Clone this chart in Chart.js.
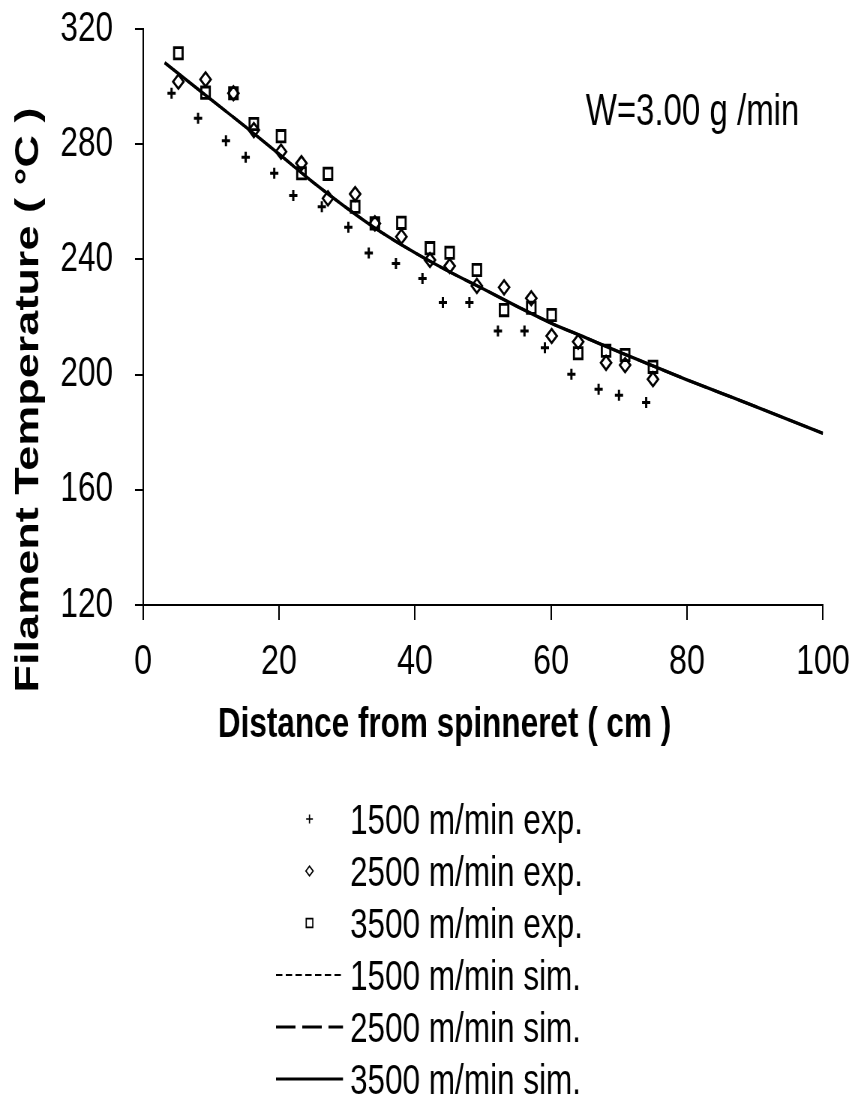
<!DOCTYPE html>
<html>
<head>
<meta charset="utf-8">
<script src="https://cdn.jsdelivr.net/npm/chart.js@4.4.1/dist/chart.umd.min.js"></script>
<style>
html,body{margin:0;padding:0;background:#fff;overflow:hidden;}
canvas{display:block;}
</style>
</head>
<body>
<canvas id="c" width="1136" height="1095" style="width:852px;height:1095px"></canvas>
<script>
// ---------- data ----------
const xTickValues = [0, 20, 40, 60, 80, 100];
const yTickValues = [120, 160, 200, 240, 280, 320];

const exp1500Dist = [4.2, 8.1, 12.2, 15.1, 19.3, 22.1, 26.3, 30.2, 33.2, 37.2, 41.1, 44.1, 48.0, 52.2, 56.1, 59.1, 63.0, 67.0, 70.0, 74.0];
const exp1500Temp = [297.7, 289.0, 281.2, 275.5, 269.9, 262.2, 258.3, 251.2, 242.2, 238.6, 233.4, 225.0, 225.0, 215.1, 215.1, 209.3, 200.1, 194.9, 192.8, 190.3];

const exp2500Dist = [5.2, 9.2, 13.3, 16.3, 20.3, 23.3, 27.2, 31.2, 34.1, 38.0, 42.2, 45.1, 49.1, 53.1, 57.1, 60.1, 64.0, 68.1, 70.9, 75.0];
const exp2500Temp = [301.7, 302.5, 297.7, 284.9, 277.4, 273.4, 261.2, 262.7, 252.5, 247.9, 239.8, 237.7, 230.8, 230.3, 226.5, 213.4, 211.4, 204.1, 203.3, 198.4];

const exp3500Dist = [5.2, 9.2, 13.3, 16.3, 20.3, 23.3, 27.2, 31.2, 34.1, 38.0, 42.2, 45.1, 49.1, 53.1, 57.1, 60.1, 64.0, 68.1, 70.9, 75.0];
const exp3500Temp = [311.6, 297.9, 297.7, 287.0, 282.8, 269.9, 269.7, 258.3, 252.5, 252.7, 243.9, 242.3, 236.3, 222.4, 223.2, 220.7, 207.4, 208.3, 206.8, 202.7];

const simDist = [3.2, 10, 15, 20, 25, 30, 35, 40, 45, 50, 55, 60, 65, 70, 75, 80, 85, 90, 95, 100];
const sim1500Temp = [308.3, 295.5, 286.2, 276.6, 266.8, 257.8, 249.5, 242.3, 235.8, 229.8, 223.7, 217.9, 212.9, 207.9, 203.0, 198.2, 193.6, 189.0, 184.3, 179.6];
const sim2500Temp = [308.3, 295.5, 286.2, 276.6, 266.8, 257.8, 249.5, 242.3, 235.8, 229.8, 223.7, 217.9, 212.9, 207.9, 203.0, 198.2, 193.6, 189.0, 184.3, 179.6];
const sim3500Temp = [308.3, 295.5, 286.2, 276.6, 266.8, 257.8, 249.5, 242.3, 235.8, 229.8, 223.7, 217.9, 212.9, 207.9, 203.0, 198.2, 193.6, 189.0, 184.3, 179.6];

const seriesLabels = ['1500 m/min exp.', '2500 m/min exp.', '3500 m/min exp.', '1500 m/min sim.', '2500 m/min sim.', '3500 m/min sim.'];
const xAxisTitle = 'Distance from spinneret ( cm )';
const yAxisTitle = 'Filament Temperature ( \u00B0C )';
const noteText = 'W=3.00 g /min';

// ---------- helpers ----------
const SX = 852 / 1136;           // horizontal squeeze of the picture
const FONT = "'Liberation Sans', Arial, Helvetica, sans-serif";
const pts = (xs, ys) => xs.map((x, i) => ({x: x, y: ys[i]}));

function drawMarker(ctx, style, x, y, r, lw) {
  ctx.save();
  ctx.strokeStyle = '#000';
  ctx.lineWidth = lw;
  ctx.beginPath();
  if (style === 'cross') {
    ctx.moveTo(x - r, y); ctx.lineTo(x + r, y);
    ctx.moveTo(x, y - r); ctx.lineTo(x, y + r);
  } else if (style === 'rectRot') {
    ctx.moveTo(x - r, y); ctx.lineTo(x, y - r); ctx.lineTo(x + r, y); ctx.lineTo(x, y + r); ctx.closePath();
  } else {
    const s = r * Math.SQRT1_2;
    ctx.rect(x - s, y - s, 2 * s, 2 * s);
  }
  ctx.stroke();
  ctx.restore();
}

const textPlugin = {
  id: 'texts',
  afterDraw(chart) {
    const ctx = chart.ctx;
    ctx.save();
    ctx.fillStyle = '#000';
    // note
    ctx.font = '44px ' + FONT;
    ctx.textAlign = 'center';
    ctx.textBaseline = 'alphabetic';
    ctx.fillText(noteText, 692.5 / SX, 125);
    // x title
    ctx.font = 'bold 42px ' + FONT;
    ctx.textAlign = 'center';
    ctx.fillText(xAxisTitle, 444.5 / SX, 737);
    // y title
    ctx.save();
    ctx.translate(38 / SX, 400);
    ctx.rotate(-Math.PI / 2);
    ctx.font = 'bold 45px ' + FONT;
    ctx.textAlign = 'center';
    ctx.fillText(yAxisTitle, 0, 0);
    ctx.restore();
    // legend
    const baselines = [834, 886, 938, 990, 1042, 1094];
    chart.data.datasets.forEach((ds, i) => {
      const by = baselines[i];
      const cy = by - 15;
      if (ds.showLine) {
        ctx.save();
        ctx.strokeStyle = '#000';
        ctx.lineWidth = ds.legendWidth;
        ctx.setLineDash(ds.legendDash);
        ctx.beginPath();
        ctx.moveTo(276 / SX, cy);
        ctx.lineTo(343 / SX, cy);
        ctx.stroke();
        ctx.restore();
      } else {
        drawMarker(ctx, ds.pointStyle, 309.5 / SX, cy, ds.legendRadius, 1.7);
      }
      ctx.font = '42px ' + FONT;
      ctx.textAlign = 'left';
      ctx.textBaseline = 'alphabetic';
      ctx.fillText(ds.label, 350 / SX, by);
    });
    ctx.restore();
  }
};

const common = {borderColor: '#000', backgroundColor: 'rgba(0,0,0,0)', showLine: false};

new Chart(document.getElementById('c'), {
  type: 'scatter',
  data: {
    datasets: [
      Object.assign({}, common, {label: seriesLabels[0], data: pts(exp1500Dist, exp1500Temp), pointStyle: 'cross', pointRadius: 5.5, pointBorderWidth: 3, legendRadius: 4.5}),
      Object.assign({}, common, {label: seriesLabels[1], data: pts(exp2500Dist, exp2500Temp), pointStyle: 'rectRot', pointRadius: 7, pointBorderWidth: 2.6, legendRadius: 4.8}),
      Object.assign({}, common, {label: seriesLabels[2], data: pts(exp3500Dist, exp3500Temp), pointStyle: 'rect', pointRadius: 8, pointBorderWidth: 2.8, legendRadius: 6.2}),
      Object.assign({}, common, {label: seriesLabels[3], data: pts(simDist, sim1500Temp), showLine: true, pointRadius: 0, borderWidth: 2, borderDash: [8.5, 4.5], cubicInterpolationMode: 'monotone', legendWidth: 2, legendDash: [8.5, 4.5]}),
      Object.assign({}, common, {label: seriesLabels[4], data: pts(simDist, sim2500Temp), showLine: true, pointRadius: 0, borderWidth: 3, borderDash: [26, 9], cubicInterpolationMode: 'monotone', legendWidth: 3, legendDash: [26, 9]}),
      Object.assign({}, common, {label: seriesLabels[5], data: pts(simDist, sim3500Temp), showLine: true, pointRadius: 0, borderWidth: 3.4, borderDash: [], cubicInterpolationMode: 'monotone', legendWidth: 3, legendDash: []})
    ]
  },
  options: {
    responsive: false,
    animation: false,
    events: [],
    devicePixelRatio: 1,
    layout: {padding: {left: 0, top: 29, right: 38.7, bottom: 390}},
    plugins: {legend: {display: false}, tooltip: {enabled: false}, title: {display: false}},
    scales: {
      x: {
        type: 'linear', min: 0, max: 100,
        afterBuildTicks: a => { a.ticks = xTickValues.map(v => ({value: v})); },
        afterFit: a => { a.height = 100; a.paddingLeft = 0; a.paddingRight = 0; },
        border: {display: true, color: '#000', width: 2},
        grid: {display: true, drawOnChartArea: false, drawTicks: true, tickLength: 15, color: '#000', lineWidth: 2},
        ticks: {color: '#000', font: {family: FONT, size: 43}, padding: 16, maxRotation: 0, autoSkip: false}
      },
      y: {
        type: 'linear', min: 120, max: 320,
        afterBuildTicks: a => { a.ticks = yTickValues.map(v => ({value: v})); },
        afterFit: a => { a.width = 143 / SX; a.paddingTop = 0; a.paddingBottom = 0; },
        border: {display: true, color: '#000', width: 2},
        grid: {display: true, drawOnChartArea: false, drawTicks: true, tickLength: 10.7, color: '#000', lineWidth: 2},
        ticks: {color: '#000', font: {family: FONT, size: 42}, padding: 29.3, autoSkip: false}
      }
    }
  },
  plugins: [textPlugin]
});
</script>
</body>
</html>
